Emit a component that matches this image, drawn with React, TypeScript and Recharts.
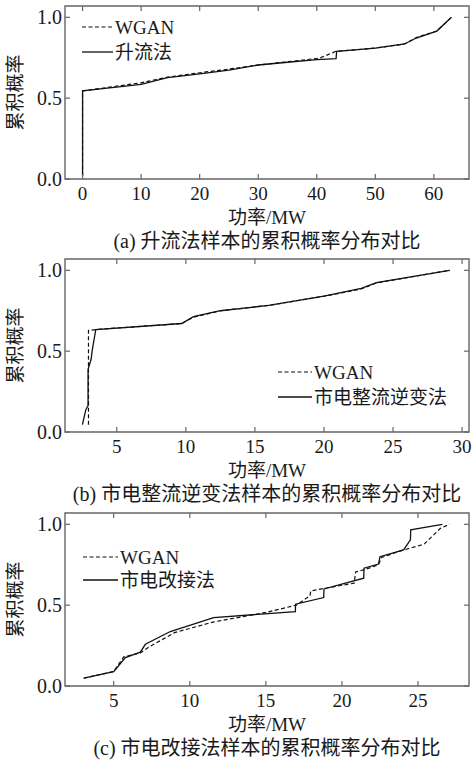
import React from 'react';
import { LineChart, Line, XAxis, YAxis, ReferenceArea, Legend } from 'recharts';

// ---------- data ----------
const xTicksA = [0, 10, 20, 30, 40, 50, 60];
const xTicksB = [5, 10, 15, 20, 25, 30];
const xTicksC = [5, 10, 15, 20, 25];
const yTicks = [0, 0.5, 1.0];
const yTickLabels = ['0.0', '0.5', '1.0'];

const wganA = [
  { x: 0, y: 0.02 }, { x: 0, y: 0.545 }, { x: 5, y: 0.57 }, { x: 10, y: 0.595 },
  { x: 14.5, y: 0.63 }, { x: 20, y: 0.657 }, { x: 25, y: 0.68 }, { x: 30, y: 0.705 },
  { x: 35, y: 0.725 }, { x: 40.5, y: 0.748 }, { x: 43.3, y: 0.79 }, { x: 47, y: 0.8 },
  { x: 50, y: 0.81 }, { x: 55, y: 0.835 }, { x: 57, y: 0.875 }, { x: 60.5, y: 0.915 },
  { x: 63, y: 1.0 },
];
const solidA = [
  { x: 0, y: 0.02 }, { x: 0, y: 0.545 }, { x: 5, y: 0.565 }, { x: 10, y: 0.585 },
  { x: 14.5, y: 0.627 }, { x: 20, y: 0.65 }, { x: 25, y: 0.673 }, { x: 30, y: 0.705 },
  { x: 35, y: 0.722 }, { x: 40, y: 0.738 }, { x: 43.3, y: 0.745 }, { x: 43.4, y: 0.79 },
  { x: 47, y: 0.8 }, { x: 50, y: 0.81 }, { x: 55, y: 0.835 }, { x: 57, y: 0.872 },
  { x: 60.5, y: 0.915 }, { x: 63, y: 1.0 },
];

const wganB = [
  { x: 2.95, y: 0.045 }, { x: 2.95, y: 0.628 }, { x: 3.5, y: 0.634 }, { x: 9.7, y: 0.671 },
  { x: 10.55, y: 0.71 }, { x: 12.5, y: 0.75 }, { x: 16, y: 0.783 }, { x: 20, y: 0.84 },
  { x: 22.7, y: 0.885 }, { x: 23.8, y: 0.922 }, { x: 29.1, y: 1.0 },
];
const solidB = [
  { x: 2.51, y: 0.045 }, { x: 2.76, y: 0.138 }, { x: 2.92, y: 0.163 }, { x: 2.92, y: 0.387 },
  { x: 3.14, y: 0.45 }, { x: 3.23, y: 0.51 }, { x: 3.48, y: 0.634 }, { x: 9.7, y: 0.671 },
  { x: 10.55, y: 0.713 }, { x: 12.5, y: 0.75 }, { x: 16, y: 0.783 }, { x: 20, y: 0.84 },
  { x: 22.7, y: 0.888 }, { x: 23.8, y: 0.924 }, { x: 29.1, y: 1.0 },
];

const wganC = [
  { x: 3.03, y: 0.048 }, { x: 5.0, y: 0.09 }, { x: 5.66, y: 0.18 }, { x: 6.75, y: 0.205 },
  { x: 7.3, y: 0.24 }, { x: 9, y: 0.33 }, { x: 11.5, y: 0.395 }, { x: 15, y: 0.455 },
  { x: 17, y: 0.5 }, { x: 17.9, y: 0.558 }, { x: 17.95, y: 0.588 }, { x: 18.8, y: 0.603 },
  { x: 20.8, y: 0.636 }, { x: 20.9, y: 0.705 }, { x: 21.5, y: 0.72 }, { x: 22.4, y: 0.75 },
  { x: 22.6, y: 0.795 }, { x: 24, y: 0.84 }, { x: 25.4, y: 0.877 }, { x: 26.47, y: 0.975 },
  { x: 27.07, y: 1.0 },
];
const solidC = [
  { x: 3.03, y: 0.048 }, { x: 5.0, y: 0.089 }, { x: 5.77, y: 0.176 }, { x: 6.75, y: 0.209 },
  { x: 7.08, y: 0.258 }, { x: 8.72, y: 0.337 }, { x: 11.57, y: 0.423 }, { x: 16.94, y: 0.46 },
  { x: 16.95, y: 0.506 }, { x: 18.8, y: 0.547 }, { x: 18.82, y: 0.6 }, { x: 21.43, y: 0.667 },
  { x: 21.45, y: 0.729 }, { x: 22.4, y: 0.754 }, { x: 22.5, y: 0.8 }, { x: 24.05, y: 0.842 },
  { x: 24.5, y: 0.904 }, { x: 24.52, y: 0.966 }, { x: 26.6, y: 1.0 },
];

// ---------- style ----------
const FONT = '"Liberation Serif", "Noto Sans CJK SC", serif';
const TEXT = '#1a1a1a';
const FRAME = '#666';
const LINE = '#111';
const W = 473;
const H = 254;
const M = { top: 6, right: 4, bottom: 45, left: 0 };
const YW = 65;
const XH = 30;
const PLOT_W = W - M.left - M.right - YW;
const PLOT_H = H - M.top - M.bottom - XH;
const TICK = 5;
const Y_MAX = 1.07;

const XTick = (p: any) => {
  const { x, y, payload } = p;
  const axisY = y - 8;
  return (
    <g>
      <line x1={x} y1={axisY} x2={x} y2={axisY - TICK} stroke={FRAME} strokeWidth={1.2} />
      <line x1={x} y1={axisY - PLOT_H} x2={x} y2={axisY - PLOT_H + TICK} stroke={FRAME} strokeWidth={1.2} />
      <text x={x} y={y} dy="0.68em" textAnchor="middle" fontFamily={FONT} fontSize={19} fill={TEXT}>
        {payload.value}
      </text>
    </g>
  );
};

const YTick = (p: any) => {
  const { x, y, payload } = p;
  const axisX = x + 3;
  const idx = yTicks.indexOf(payload.value);
  return (
    <g>
      <line x1={axisX} y1={y} x2={axisX + TICK} y2={y} stroke={FRAME} strokeWidth={1.2} />
      <line x1={axisX + PLOT_W} y1={y} x2={axisX + PLOT_W - TICK} y2={y} stroke={FRAME} strokeWidth={1.2} />
      <text x={x} y={y} dy="0.355em" textAnchor="end" fontFamily={FONT} fontSize={20} fill={TEXT}>
        {idx >= 0 ? yTickLabels[idx] : payload.value}
      </text>
    </g>
  );
};

type PanelProps = {
  top: number;
  xDomain: [number, number];
  xTicks: number[];
  wgan: { x: number; y: number }[];
  solid: { x: number; y: number }[];
  name: string;
  caption: string;
  legendLeft: number;
  legendTop: number;
  legendGap: number;
  lineLen: number;
};

const Panel = (props: PanelProps) => {
  const { top, xDomain, xTicks, wgan, solid, name, caption, legendLeft, legendTop, legendGap, lineLen } = props;
  const legendContent = () => (
    <svg width={240} height={60} style={{ display: 'block' }}>
      <line x1={0} y1={12} x2={lineLen} y2={12} stroke={LINE} strokeWidth={1.2} strokeDasharray="4 2.5" />
      <text x={lineLen + 2} y={12} dy="0.35em" fontFamily={FONT} fontSize={19} fill={TEXT}>WGAN</text>
      <line x1={0} y1={12 + legendGap} x2={lineLen} y2={12 + legendGap} stroke={LINE} strokeWidth={1.3} />
      <text x={lineLen + 2} y={12 + legendGap} dy="0.35em" fontFamily={FONT} fontSize={19} fill={TEXT}>{name}</text>
    </svg>
  );
  return (
    <div style={{ position: 'absolute', left: 0, top }}>
      <LineChart width={W} height={H} margin={M}>
        <XAxis
          dataKey="x"
          type="number"
          domain={xDomain}
          allowDataOverflow
          ticks={xTicks}
          interval={0}
          height={XH}
          tickSize={0}
          tickMargin={8}
          axisLine={false}
          tickLine={false}
          tick={XTick}
          label={{
            content: (lp: any) => {
              const vb = lp.viewBox || {};
              const cx = vb.x + vb.width / 2;
              return (
                <g>
                  <text x={cx} y={vb.y + 38} dy="0.35em" textAnchor="middle" fontFamily={FONT} fontSize={19} fill={TEXT}>功率/MW</text>
                  <text x={cx} y={vb.y + 62} dy="0.35em" textAnchor="middle" fontFamily={FONT} fontSize={20} fill={TEXT}>{caption}</text>
                </g>
              );
            },
          }}
        />
        <YAxis
          type="number"
          domain={[0, Y_MAX]}
          allowDataOverflow
          ticks={yTicks}
          interval={0}
          width={YW}
          tickSize={0}
          tickMargin={3}
          axisLine={false}
          tickLine={false}
          tick={YTick}
          label={{
            content: (lp: any) => {
              const vb = lp.viewBox || {};
              const cy = vb.y + vb.height / 2;
              return (
                <text x={15} y={cy} dy="0.35em" textAnchor="middle" transform={`rotate(-90 15 ${cy})`} fontFamily={FONT} fontSize={19} fill={TEXT}>
                  累积概率
                </text>
              );
            },
          }}
        />
        <ReferenceArea x1={xDomain[0]} x2={xDomain[1]} y1={0} y2={Y_MAX} fill="none" stroke={FRAME} strokeWidth={1.4} ifOverflow="visible" />
        <Legend
          layout="vertical"
          align="center"
          verticalAlign="middle"
          wrapperStyle={{ left: legendLeft, top: legendTop, width: 240, height: 60 }}
          content={legendContent}
        />
        <Line data={wgan} dataKey="y" name="WGAN" type="linear" dot={false} stroke={LINE} strokeWidth={1.2} strokeDasharray="4 2.5" isAnimationActive={false} />
        <Line data={solid} dataKey="y" name={name} type="linear" dot={false} stroke={LINE} strokeWidth={1.3} isAnimationActive={false} />
      </LineChart>
    </div>
  );
};

export default function App() {
  return (
    <div style={{ position: 'absolute', left: 0, top: 0, width: W, height: 762, background: '#fff' }}>
      <Panel top={0} xDomain={[-3, 66]} xTicks={xTicksA} wgan={wganA} solid={solidA} name="升流法"
        caption="(a) 升流法样本的累积概率分布对比" legendLeft={82} legendTop={15} legendGap={25} lineLen={31} />
      <Panel top={253} xDomain={[1.25, 30.5]} xTicks={xTicksB} wgan={wganB} solid={solidB} name="市电整流逆变法"
        caption="(b) 市电整流逆变法样本的累积概率分布对比" legendLeft={278} legendTop={107} legendGap={25} lineLen={34} />
      <Panel top={507} xDomain={[1.8, 28.35]} xTicks={xTicksC} wgan={wganC} solid={solidC} name="市电改接法"
        caption="(c) 市电改接法样本的累积概率分布对比" legendLeft={83} legendTop={38} legendGap={23} lineLen={35} />
    </div>
  );
}
